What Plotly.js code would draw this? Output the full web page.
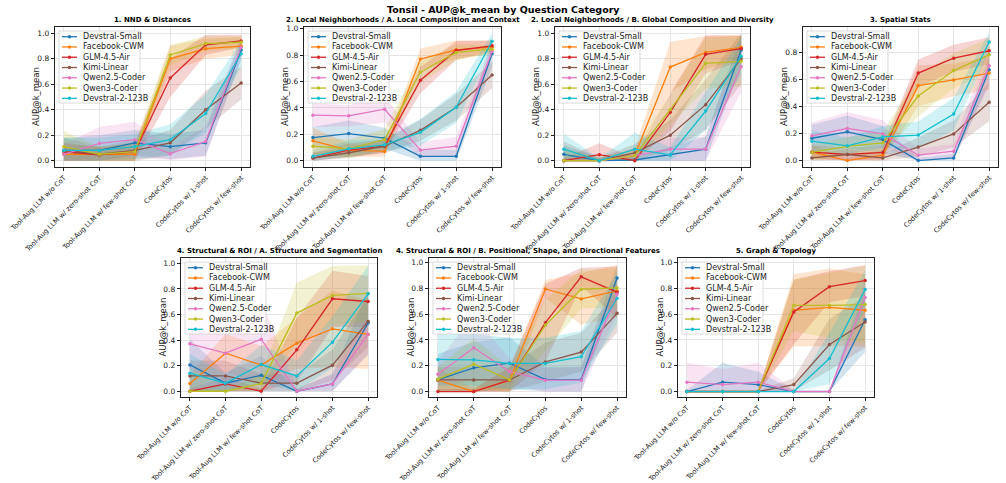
<!DOCTYPE html>
<html>
<head>
<meta charset="utf-8">
<script src="https://cdn.plot.ly/plotly-3.0.1.min.js"></script>
<style>
  html, body { margin: 0; padding: 0; background: #fff; }
  #chart { width: 1006px; height: 483px; }
</style>
</head>
<body>
<div id="chart"></div>
<script>
// Methods on the x axis
const categories = [
  "Tool-Aug LLM w/o CoT",
  "Tool-Aug LLM w/ zero-shot CoT",
  "Tool-Aug LLM w/ few-shot CoT",
  "CodeCytos",
  "CodeCytos w/ 1-shot",
  "CodeCytos w/ few-shot"
];

const models = ["Devstral-Small", "Facebook-CWM", "GLM-4.5-Air", "Kimi-Linear",
                "Qwen2.5-Coder", "Qwen3-Coder", "Devstral-2-123B"];

const panelTitles = [
  "1. NND & Distances",
  "2. Local Neighborhoods / A. Local Composition and Context",
  "2. Local Neighborhoods / B. Global Composition and Diversity",
  "3. Spatial Stats",
  "4. Structural & ROI / A. Structure and Segmentation",
  "4. Structural & ROI / B. Positional, Shape, and Directional Features",
  "5. Graph & Topology"
];

const yTitle = "AUP@k_mean";

// Mean AUP@k per model (rows follow `models`) and half-width of the shaded band
const nndMean = [
  [0.08, 0.08, 0.14, 0.11, 0.14, 0.87],
  [0.05, 0.05, 0.05, 0.80, 0.88, 0.90],
  [0.07, 0.045, 0.07, 0.65, 0.91, 0.94],
  [0.08, 0.05, 0.08, 0.14, 0.40, 0.61],
  [0.05, 0.135, 0.165, 0.055, 0.15, 0.89],
  [0.11, 0.05, 0.07, 0.83, 0.92, 0.93],
  [0.08, 0.08, 0.11, 0.165, 0.37, 0.84]
];
const nndSpread = [
  [0.10, 0.12, 0.10, 0.10, 0.10, 0.08],
  [0.08, 0.06, 0.06, 0.10, 0.08, 0.07],
  [0.07, 0.06, 0.07, 0.15, 0.08, 0.05],
  [0.10, 0.06, 0.08, 0.10, 0.15, 0.13],
  [0.08, 0.13, 0.14, 0.05, 0.12, 0.08],
  [0.12, 0.06, 0.07, 0.08, 0.06, 0.05],
  [0.10, 0.10, 0.10, 0.12, 0.15, 0.10]
];

const localMean = [
  [0.175, 0.205, 0.17, 0.033, 0.033, 0.81],
  [0.15, 0.08, 0.07, 0.77, 0.84, 0.86],
  [0.02, 0.08, 0.11, 0.61, 0.835, 0.87],
  [0.02, 0.06, 0.11, 0.23, 0.405, 0.65],
  [0.345, 0.34, 0.39, 0.08, 0.11, 0.83],
  [0.11, 0.09, 0.16, 0.67, 0.82, 0.845],
  [0.033, 0.09, 0.12, 0.215, 0.405, 0.905]
];
const localSpread = [
  [0.08, 0.10, 0.08, 0.05, 0.05, 0.10],
  [0.10, 0.05, 0.04, 0.08, 0.07, 0.05],
  [0.04, 0.05, 0.05, 0.10, 0.07, 0.04],
  [0.04, 0.04, 0.05, 0.08, 0.10, 0.10],
  [0.09, 0.08, 0.10, 0.06, 0.07, 0.05],
  [0.07, 0.07, 0.08, 0.08, 0.06, 0.03],
  [0.05, 0.06, 0.05, 0.10, 0.12, 0.06]
];

const globalMean = [
  [0.05, 0.0, 0.005, 0.045, 0.09, 0.87],
  [0.0, 0.0, 0.04, 0.735, 0.85, 0.89],
  [0.0, 0.047, 0.0, 0.38, 0.835, 0.88],
  [0.0, 0.0, 0.06, 0.20, 0.44, 0.80],
  [0.0, 0.0, 0.04, 0.09, 0.09, 0.74],
  [0.0, 0.0, 0.04, 0.40, 0.765, 0.78],
  [0.09, 0.0, 0.09, 0.045, 0.39, 0.82]
];
const globalSpread = [
  [0.07, 0.02, 0.02, 0.06, 0.10, 0.12],
  [0.02, 0.02, 0.06, 0.20, 0.13, 0.10],
  [0.02, 0.09, 0.02, 0.15, 0.15, 0.10],
  [0.15, 0.02, 0.07, 0.12, 0.20, 0.20],
  [0.02, 0.02, 0.05, 0.09, 0.10, 0.20],
  [0.10, 0.02, 0.05, 0.12, 0.20, 0.20],
  [0.12, 0.02, 0.13, 0.06, 0.15, 0.15]
];

const spatialMean = [
  [0.165, 0.212, 0.155, 0.0, 0.02, 0.67],
  [0.062, 0.0, 0.04, 0.553, 0.595, 0.645],
  [0.062, 0.045, 0.06, 0.645, 0.755, 0.81],
  [0.02, 0.045, 0.02, 0.10, 0.197, 0.43],
  [0.183, 0.237, 0.197, 0.04, 0.07, 0.70],
  [0.06, 0.105, 0.13, 0.476, 0.664, 0.78],
  [0.143, 0.109, 0.175, 0.188, 0.343, 0.874]
];
const spatialSpread = [
  [0.10, 0.12, 0.10, 0.02, 0.03, 0.10],
  [0.05, 0.02, 0.04, 0.15, 0.12, 0.12],
  [0.05, 0.05, 0.05, 0.10, 0.10, 0.10],
  [0.03, 0.04, 0.03, 0.07, 0.10, 0.14],
  [0.10, 0.12, 0.10, 0.05, 0.05, 0.15],
  [0.06, 0.07, 0.08, 0.15, 0.13, 0.12],
  [0.08, 0.06, 0.08, 0.10, 0.12, 0.07]
];

const structureMean = [
  [0.206, 0.063, 0.125, 0.0, 0.057, 0.533],
  [0.06, 0.298, 0.204, 0.376, 0.488, 0.444],
  [0.0, 0.057, 0.0, 0.324, 0.723, 0.702],
  [0.12, 0.12, 0.063, 0.063, 0.204, 0.546],
  [0.371, 0.298, 0.407, 0.0, 0.057, 0.446],
  [0.0, 0.0, 0.06, 0.611, 0.749, 0.765],
  [0.141, 0.063, 0.209, 0.12, 0.384, 0.762]
];
const structureSpread = [
  [0.20, 0.08, 0.15, 0.02, 0.08, 0.25],
  [0.07, 0.15, 0.15, 0.20, 0.30, 0.27],
  [0.02, 0.06, 0.02, 0.25, 0.22, 0.20],
  [0.12, 0.12, 0.07, 0.07, 0.12, 0.20],
  [0.20, 0.25, 0.30, 0.02, 0.07, 0.15],
  [0.02, 0.02, 0.07, 0.24, 0.23, 0.22],
  [0.15, 0.07, 0.15, 0.12, 0.20, 0.22]
];

const positionalMean = [
  [0.093, 0.184, 0.22, 0.093, 0.093, 0.88],
  [0.088, 0.0, 0.088, 0.795, 0.718, 0.78],
  [0.0, 0.0, 0.088, 0.534, 0.889, 0.77],
  [0.09, 0.09, 0.09, 0.23, 0.306, 0.606],
  [0.135, 0.34, 0.155, 0.088, 0.088, 0.754],
  [0.096, 0.212, 0.09, 0.515, 0.793, 0.803],
  [0.249, 0.246, 0.218, 0.218, 0.27, 0.723]
];
const positionalSpread = [
  [0.20, 0.20, 0.20, 0.10, 0.10, 0.10],
  [0.10, 0.02, 0.10, 0.07, 0.20, 0.20],
  [0.02, 0.02, 0.10, 0.30, 0.07, 0.20],
  [0.10, 0.10, 0.10, 0.15, 0.15, 0.15],
  [0.10, 0.25, 0.10, 0.09, 0.10, 0.15],
  [0.10, 0.20, 0.10, 0.20, 0.15, 0.15],
  [0.20, 0.20, 0.20, 0.20, 0.20, 0.20]
];

const graphMean = [
  [0.0, 0.073, 0.054, 0.0, 0.0, 0.557],
  [0.0, 0.0, 0.0, 0.63, 0.653, 0.63],
  [0.0, 0.0, 0.0, 0.617, 0.813, 0.86],
  [0.0, 0.0, 0.0, 0.054, 0.365, 0.539],
  [0.073, 0.054, 0.073, 0.0, 0.0, 0.728],
  [0.0, 0.0, 0.0, 0.668, 0.668, 0.674],
  [0.0, 0.0, 0.0, 0.0, 0.256, 0.79]
];
const graphSpread = [
  [0.01, 0.15, 0.10, 0.01, 0.01, 0.25],
  [0.01, 0.01, 0.01, 0.28, 0.30, 0.28],
  [0.01, 0.01, 0.01, 0.25, 0.12, 0.12],
  [0.01, 0.01, 0.01, 0.05, 0.20, 0.20],
  [0.15, 0.12, 0.15, 0.01, 0.01, 0.15],
  [0.01, 0.01, 0.01, 0.20, 0.25, 0.30],
  [0.01, 0.01, 0.01, 0.01, 0.20, 0.15]
];

// ---- styling / layout ----
const palette = ["#1f77b4", "#ff7f0e", "#d62728", "#8c564b", "#e377c2", "#bcbd22", "#17becf"];
const FONT = "DejaVu Sans, Liberation Sans, sans-serif";
const W = 1006, H = 483;

const panels = [
  { mean: nndMean, spread: nndSpread, box: [55, 250, 27, 167], yr: [-0.05, 1.05] },
  { mean: localMean, spread: localSpread, box: [304, 501, 27, 167], yr: [-0.048, 1.013] },
  { mean: globalMean, spread: globalSpread, box: [555, 750, 27, 167], yr: [-0.05, 1.05] },
  { mean: spatialMean, spread: spatialSpread, box: [803, 998, 27, 167], yr: [-0.047, 0.985] },
  { mean: structureMean, spread: structureSpread, box: [181, 377, 258, 397], yr: [-0.045, 1.042] },
  { mean: positionalMean, spread: positionalSpread, box: [429, 626, 258, 397], yr: [-0.042, 1.035] },
  { mean: graphMean, spread: graphSpread, box: [678, 874, 258, 397], yr: [-0.042, 1.035] }
];

function rgba(hex, a) {
  const n = parseInt(hex.slice(1), 16);
  return `rgba(${(n >> 16) & 255},${(n >> 8) & 255},${n & 255},${a})`;
}
const clip = v => Math.max(0, Math.min(1, v));

const traces = [];
const layout = {
  width: W, height: H,
  margin: { l: 0, r: 0, t: 0, b: 0 },
  paper_bgcolor: "#fff", plot_bgcolor: "#fff",
  showlegend: false,
  font: { family: FONT, color: "#000" },
  annotations: [],
  shapes: []
};

layout.annotations.push({
  text: "<b>Tonsil - AUP@k_mean by Question Category</b>",
  xref: "paper", yref: "paper", x: 0.5, y: 1 - 10 / H,
  xanchor: "center", yanchor: "middle", showarrow: false,
  font: { family: FONT, size: 9.5, color: "#000" }
});

panels.forEach((p, i) => {
  const n = i + 1;
  const xa = n === 1 ? "x" : "x" + n;
  const ya = n === 1 ? "y" : "y" + n;
  const [x0, x1, yt, yb] = p.box;
  const pw = x1 - x0, ph = yb - yt;

  // bands first, then lines on top
  models.forEach((m, k) => {
    const mu = p.mean[k], sd = p.spread[k];
    const upper = mu.map((v, j) => clip(v + sd[j]));
    const lower = mu.map((v, j) => clip(v - sd[j]));
    traces.push({
      type: "scatter", mode: "lines", xaxis: xa, yaxis: ya,
      x: categories.concat(categories.slice().reverse()),
      y: upper.concat(lower.slice().reverse()),
      fill: "toself", fillcolor: rgba(palette[k], 0.2),
      line: { width: 0, color: "rgba(0,0,0,0)" },
      hoverinfo: "skip"
    });
  });
  models.forEach((m, k) => {
    traces.push({
      type: "scatter", mode: "lines+markers", name: m, xaxis: xa, yaxis: ya,
      x: categories, y: p.mean[k],
      line: { color: palette[k], width: 1.3 },
      marker: { color: palette[k], size: 3.5, symbol: "circle" }
    });
  });

  const axName = n === 1 ? "" : String(n);
  layout["xaxis" + axName] = {
    domain: [x0 / W, x1 / W], anchor: ya,
    type: "category", categoryorder: "array", categoryarray: categories,
    range: [-0.25, 5.25], tickangle: -45,
    tickfont: { family: FONT, size: 6.8, color: "#222" },
    showgrid: true, gridcolor: "#e6e6e6", gridwidth: 1,
    showline: true, mirror: true, linecolor: "#222", linewidth: 1.2,
    ticks: "outside", ticklen: 3, tickcolor: "#222", zeroline: false,
    automargin: false
  };
  layout["yaxis" + axName] = {
    domain: [1 - yb / H, 1 - yt / H], anchor: xa,
    range: p.yr, dtick: 0.2, tick0: 0, tickformat: ".1f",
    tickfont: { family: FONT, size: 7.5, color: "#222" },
    showgrid: true, gridcolor: "#e6e6e6", gridwidth: 1,
    showline: true, mirror: true, linecolor: "#222", linewidth: 1.2,
    ticks: "outside", ticklen: 3, tickcolor: "#222", zeroline: false,
    automargin: false
  };

  // y-axis label, rotated along the left spine
  layout.annotations.push({
    text: yTitle, xref: "paper", yref: "paper",
    x: (x0 - 19) / W, y: 1 - (yt + yb) / 2 / H,
    xanchor: "center", yanchor: "middle", textangle: -90, showarrow: false,
    font: { family: FONT, size: 8.5, color: "#222" }
  });

  // panel heading
  layout.annotations.push({
    text: "<b>" + panelTitles[i] + "</b>",
    xref: "paper", yref: "paper", x: (x0 + x1) / 2 / W, y: 1 - (yt - 1) / H,
    xanchor: "center", yanchor: "bottom", showarrow: false,
    font: { family: FONT, size: 7, color: "#000" }
  });

  // legend box in the upper-left corner of each panel
  const xr = xa + " domain", yr = ya + " domain";
  const dx = px => px / pw, dy = py => 1 - py / ph;
  layout.shapes.push({
    type: "rect", xref: xr, yref: yr,
    x0: dx(4), x1: dx(85), y0: dy(4), y1: dy(76),
    fillcolor: "rgba(255,255,255,0.8)", line: { color: "#d0d0d0", width: 0.8 }
  });
  models.forEach((m, k) => {
    const cy = 9.7 + k * 10.27;
    layout.shapes.push({
      type: "line", xref: xr, yref: yr,
      x0: dx(7), x1: dx(22), y0: dy(cy), y1: dy(cy),
      line: { color: palette[k], width: 1.3 }
    });
    layout.shapes.push({
      type: "circle", xref: xr, yref: yr,
      x0: dx(12.8), x1: dx(16.2), y0: dy(cy - 1.7), y1: dy(cy + 1.7),
      fillcolor: palette[k], line: { width: 0 }
    });
    layout.annotations.push({
      text: m, xref: xr, yref: yr, x: dx(25.5), y: dy(cy),
      xanchor: "left", yanchor: "middle", showarrow: false,
      font: { family: FONT, size: 8, color: "#222" }
    });
  });
});

Plotly.newPlot("chart", traces, layout, { staticPlot: true, displayModeBar: false });
</script>
</body>
</html>
